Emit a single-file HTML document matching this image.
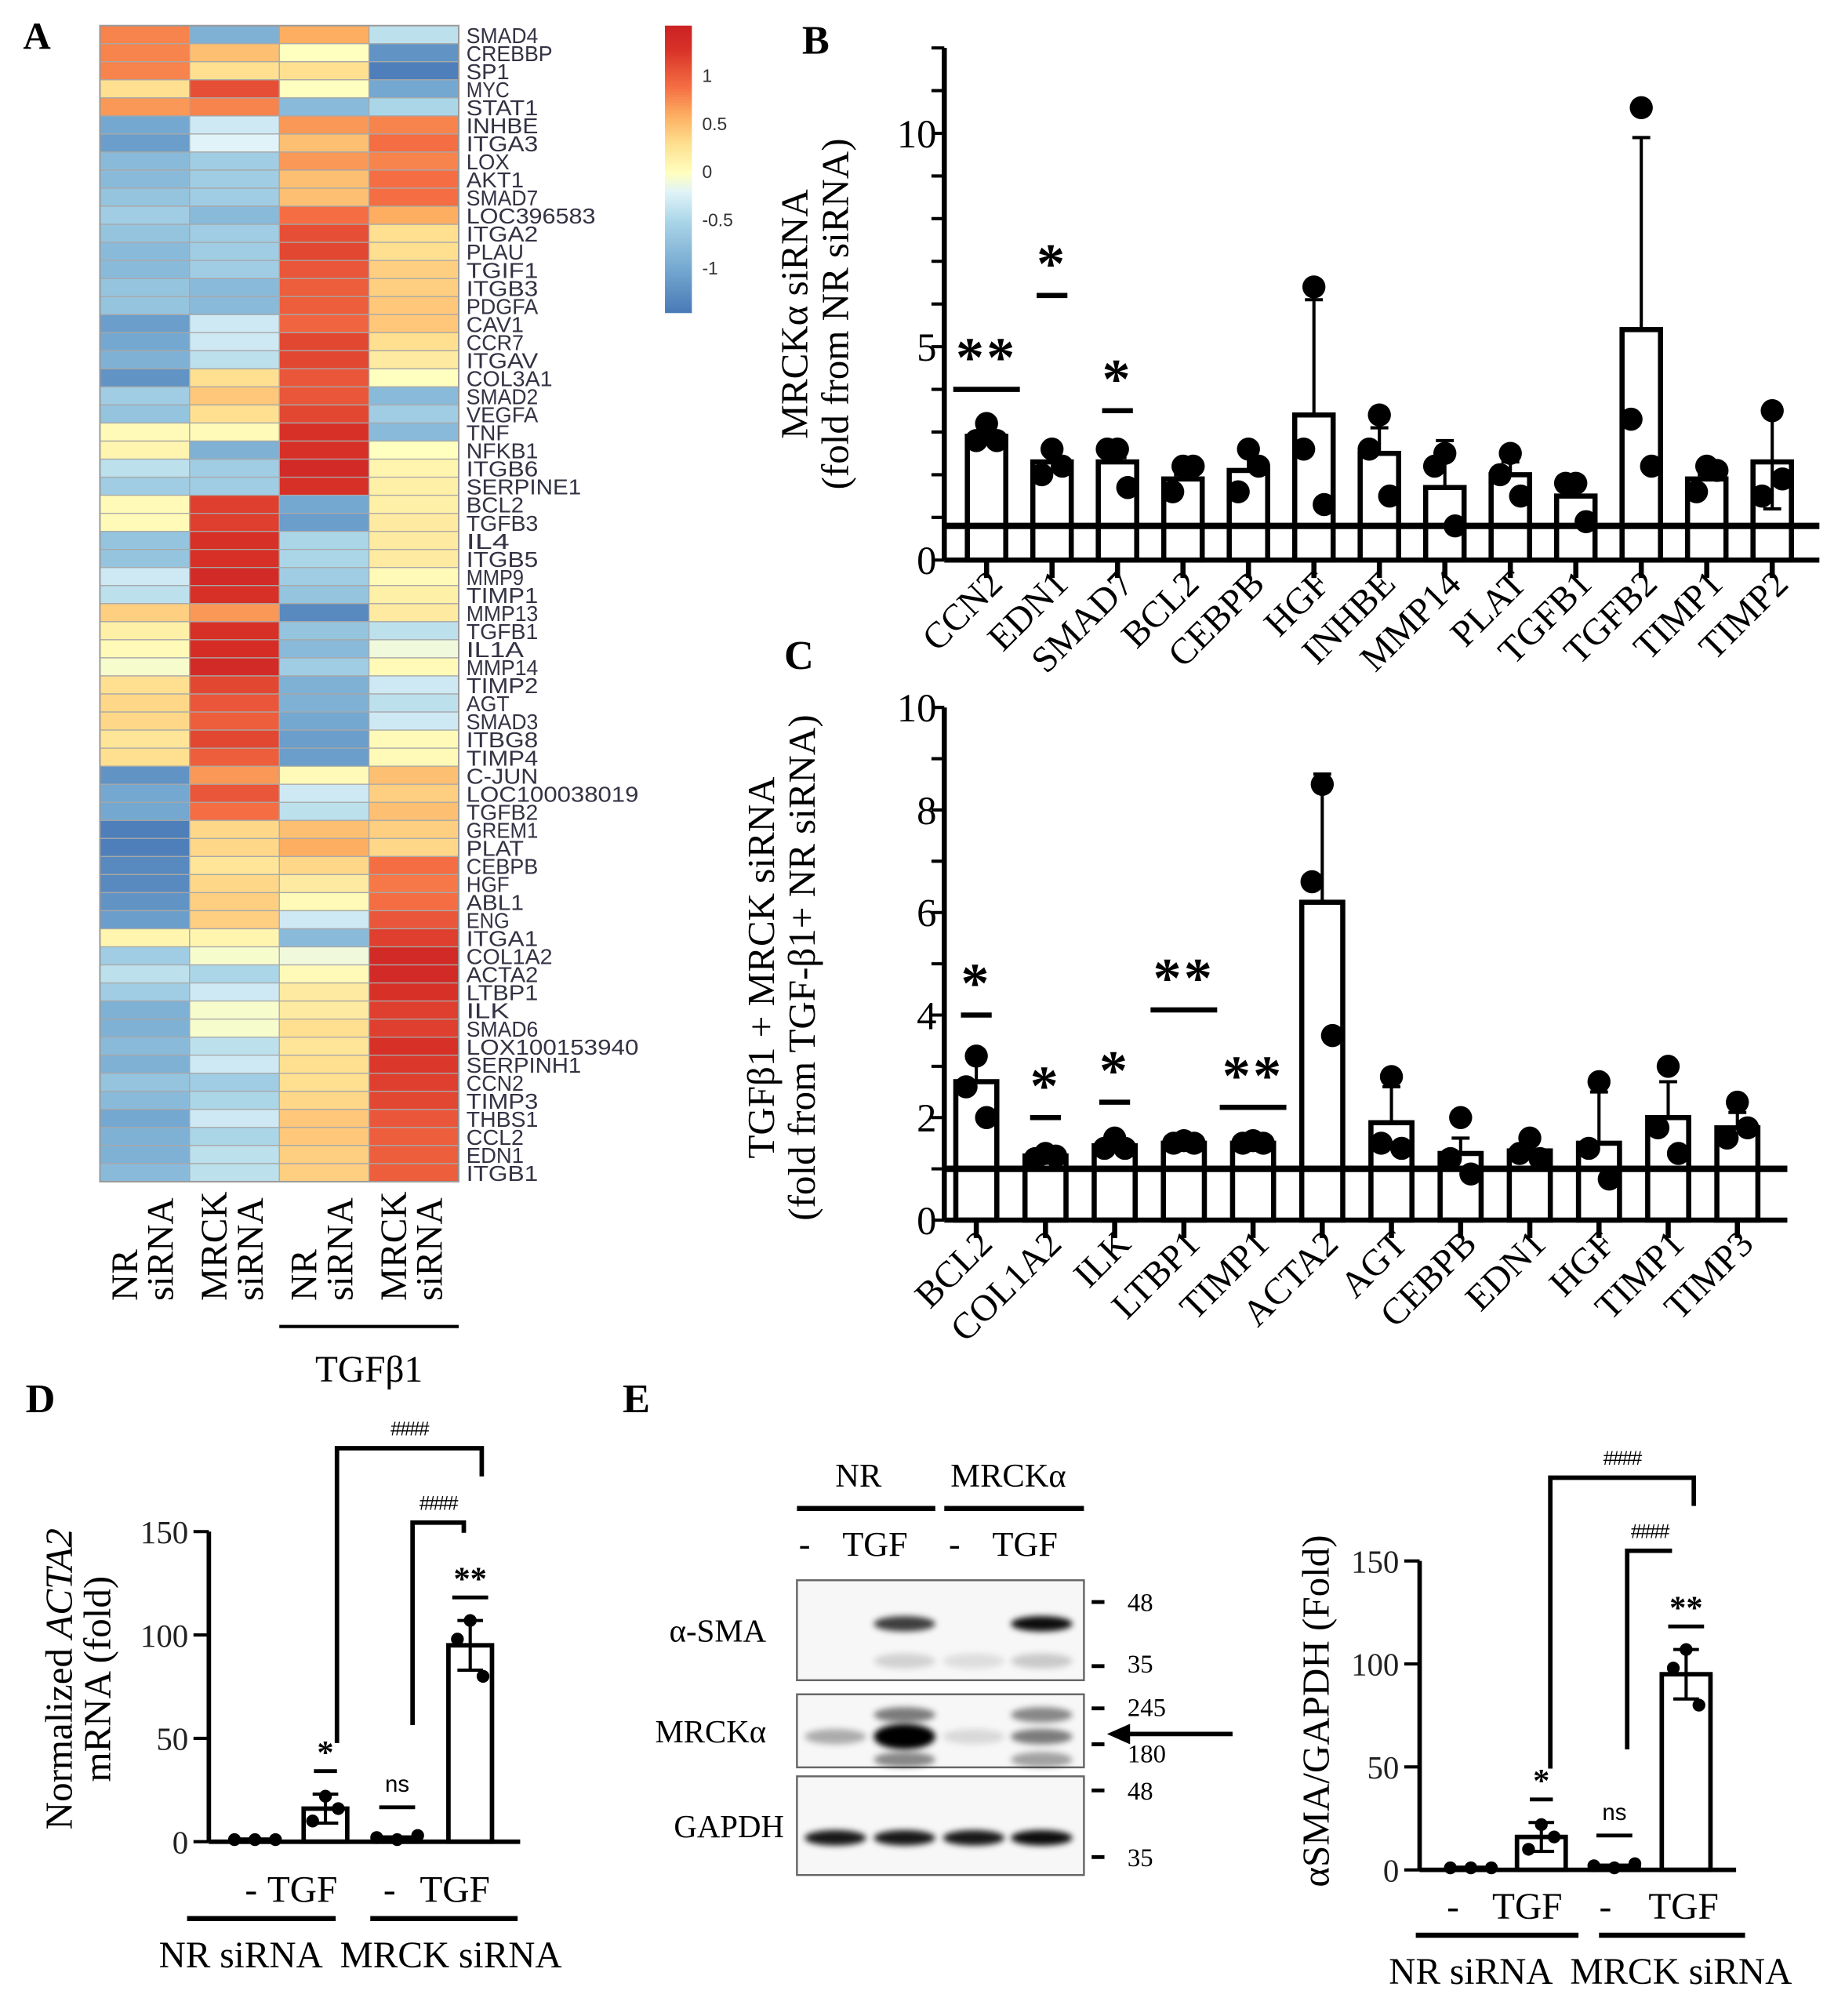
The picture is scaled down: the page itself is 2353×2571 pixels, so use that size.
<!DOCTYPE html>
<html><head><meta charset="utf-8">
<style>
html,body{margin:0;padding:0;background:#fff;}
svg{display:block;}
.serif{font-family:"Liberation Serif",serif;}
.sans{font-family:"Liberation Sans",sans-serif;}
</style></head>
<body>
<svg id="fig" width="2353" height="2571" viewBox="0 0 1440 1573" preserveAspectRatio="none" xmlns="http://www.w3.org/2000/svg">
<g id="heat"></g>
<g id="pb"></g>
<g id="pc"></g>
<g id="pd"></g>
<g id="pe"></g>
<g id="pe2"></g>
</svg>
<script>
// ---------- Panel A data ----------
const genes=["SMAD4","CREBBP","SP1","MYC","STAT1","INHBE","ITGA3","LOX","AKT1","SMAD7","LOC396583","ITGA2","PLAU","TGIF1","ITGB3","PDGFA","CAV1","CCR7","ITGAV","COL3A1","SMAD2","VEGFA","TNF","NFKB1","ITGB6","SERPINE1","BCL2","TGFB3","IL4","ITGB5","MMP9","TIMP1","MMP13","TGFB1","IL1A","MMP14","TIMP2","AGT","SMAD3","ITBG8","TIMP4","C-JUN","LOC100038019","TGFB2","GREM1","PLAT","CEBPB","HGF","ABL1","ENG","ITGA1","COL1A2","ACTA2","LTBP1","ILK","SMAD6","LOX100153940","SERPINH1","CCN2","TIMP3","THBS1","CCL2","EDN1","ITGB1"];
const colNR=[0.8,0.8,0.8,0.3,0.7,-1.0,-1.1,-0.8,-0.8,-0.7,-0.6,-0.7,-0.8,-0.8,-0.7,-0.7,-1.1,-1.0,-0.9,-1.2,-0.6,-0.7,0.05,0.1,-0.4,-0.6,0.05,0.05,-0.7,-0.7,-0.3,-0.4,0.4,0.15,0.05,-0.05,0.3,0.35,0.35,0.25,0.3,-1.2,-1.0,-1.0,-1.4,-1.4,-1.3,-1.3,-1.2,-1.1,0.1,-0.6,-0.4,-0.6,-0.9,-0.9,-0.8,-0.9,-0.7,-0.8,-1.0,-0.9,-0.9,-0.8];
const colMRCK=[-0.9,0.5,0.3,1.1,0.8,-0.3,-0.2,-0.6,-0.6,-0.6,-0.8,-0.6,-0.6,-0.6,-0.8,-0.8,-0.3,-0.3,-0.4,0.3,0.45,0.3,0.05,-0.9,-0.6,-0.6,1.2,1.2,1.3,1.3,1.4,1.3,0.7,1.3,1.35,1.4,1.15,1.05,1.0,1.15,1.0,0.7,1.05,0.9,0.35,0.35,0.25,0.35,0.4,0.4,0.1,-0.05,-0.5,-0.3,-0.05,-0.05,-0.4,-0.3,-0.6,-0.5,-0.3,-0.5,-0.4,-0.4];
const colNRT=[0.6,0,0.3,0,-0.8,0.7,0.5,0.7,0.5,0.5,0.9,1.1,1.15,1.05,1.0,1.0,0.95,1.15,1.15,1.05,1.05,1.15,1.3,1.3,1.4,1.3,-1.0,-1.1,-0.5,-0.5,-0.6,-0.7,-1.3,-0.7,-0.8,-0.6,-0.9,-0.9,-1.0,-1.1,-1.1,0.05,-0.3,-0.4,0.5,0.6,0.35,0.2,0.05,-0.3,-0.8,-0.1,0.05,0.2,0.2,0.3,0.25,0.3,0.3,0.35,0.45,0.45,0.4,0.4];
const colMRCKT=[-0.4,-1.2,-1.4,-1.0,-0.5,0.8,0.9,0.8,0.9,0.9,0.6,0.3,0.3,0.4,0.4,0.45,0.45,0.3,0.2,0,-0.8,-0.6,-0.8,0,0.1,0.15,0.15,0.2,0.2,0.2,0.05,0.15,0.2,-0.4,-0.1,0.05,-0.3,-0.4,-0.3,0.05,0.05,0.5,0.4,0.5,0.4,0.35,0.9,0.85,0.9,1.05,1.2,1.4,1.4,1.3,1.2,1.2,1.3,1.25,1.2,1.15,1.05,1.0,1.0,1.0];
const colorbarTicks=[1,0.5,0,-0.5,-1];
const colorbarTickLabels=["1","0.5","0","-0.5","-1"];

// ---------- Panel B data ----------
const bCats=["CCN2","EDN1","SMAD7","BCL2","CEBPB","HGF","INHBE","MMP14","PLAT","TGFB1","TGFB2","TIMP1","TIMP2"];
const bMeans=[2.9,2.3,2.3,1.9,2.1,3.4,2.5,1.7,2.0,1.5,5.4,1.9,2.3];
const bErrHi=[3.0,2.6,2.4,2.0,2.6,6.1,3.1,2.8,2.3,1.8,9.9,2.0,3.4];
const bErrLo=[2.9,2.3,2.3,1.9,2.1,3.4,2.5,1.7,2.0,1.5,5.4,1.9,1.2];
const bPts1=[3.2,2.6,2.6,2.2,2.6,6.4,3.4,2.5,2.5,1.8,10.6,2.2,3.5];
const bPts2=[2.8,2.0,2.6,1.6,1.6,2.6,2.6,2.2,2.0,1.8,3.3,1.6,1.5];
const bPts3=[2.8,2.2,1.7,2.2,2.2,1.3,1.5,0.8,1.5,0.9,2.2,2.1,1.9];
const bSig=["**","*","*","","","","","","","","","",""];
const bSigY=[4.0,6.2,3.5,0,0,0,0,0,0,0,0,0,0];
const bTicks=[0,5,10];

// ---------- Panel C data ----------
const cCats=["BCL2","COL1A2","ILK","LTBP1","TIMP1","ACTA2","AGT","CEBPB","EDN1","HGF","TIMP1","TIMP3"];
const cMeans=[2.7,1.25,1.45,1.5,1.5,6.2,1.9,1.3,1.35,1.5,2.0,1.8];
const cErrHi=[3.2,1.3,1.6,1.55,1.6,8.7,2.6,1.6,1.6,2.5,2.7,2.1];
const cPts1=[3.2,1.3,1.6,1.55,1.55,8.5,2.8,2.0,1.6,2.7,3.0,2.3];
const cPts2=[2.6,1.2,1.4,1.5,1.5,6.6,1.5,1.2,1.3,1.4,1.8,1.6];
const cPts3=[2.0,1.25,1.4,1.5,1.5,3.6,1.4,0.9,1.2,0.8,1.3,1.8];
const cSig=["*","*","*","**","**","","","","","","",""];
const cSigY=[4.0,2.0,2.3,4.1,2.2,0,0,0,0,0,0,0];
const cTicks=[0,2,4,6,8,10];

// ---------- Panel D / E data ----------
const dMeans=[1,16,2,95];
const dErr=[0,7,0,12];
const dPts1=[1,22,2,107];
const dPts2=[1,10,1,98];
const dPts3=[1,16,3,80];
const dSig=["","*","ns","**"];
const eMeans=[1,16,2,95];
const eErr=[0,7,0,12];
const ePts1=[1,22,2,107];
const ePts2=[1,10,1,98];
const ePts3=[1,16,3,80];
const eSig=["","*","ns","**"];
const ddTicks=[0,50,100,150];
const blotMarkers=["48","35","245","180","48","35"];

const NS="http://www.w3.org/2000/svg";
function el(parent,tag,attrs,text){const e=document.createElementNS(NS,tag);for(const k in attrs)e.setAttribute(k,attrs[k]);if(text!==undefined)e.textContent=text;parent.appendChild(e);return e;}

const stops=[[-1.5,[69,117,180]],[-1.0,[116,168,208]],[-0.5,[171,214,232]],[-0.2,[224,243,248]],[0,[255,255,191]],[0.3,[254,224,144]],[0.6,[253,174,97]],[0.9,[244,109,67]],[1.3,[215,48,39]],[1.6,[200,30,35]]];
function cmap(v){if(v<=stops[0][0])return `rgb(${stops[0][1]})`;for(let i=1;i<stops.length;i++){if(v<=stops[i][0]){const a=stops[i-1],b=stops[i];const t=(v-a[0])/(b[0]-a[0]);const c=a[1].map((x,j)=>Math.round(x+(b[1][j]-x)*t));return `rgb(${c.join(',')})`;}}return `rgb(${stops[stops.length-1][1]})`;}

// ---------- Panel A ----------
(function(){
const g=document.getElementById('heat');
const L=el(g,'text',{x:18,y:38,class:'serif','font-size':30,'font-weight':'bold'},'A');

const x0=78,y0=20,cw=70,rh=(922-20)/genes.length;
const cols=[colNR,colMRCK,colNRT,colMRCKT];
cols.forEach((col,ci)=>{col.forEach((v,ri)=>{
 const r=el(g,'rect',{x:x0+ci*cw,y:y0+ri*rh,width:cw,height:rh,fill:cmap(v),stroke:'#a8a8a8','stroke-width':0.8});
 
 
});});
el(g,'rect',{x:x0,y:y0,width:cw*4,height:rh*genes.length,fill:'none',stroke:'#999','stroke-width':1.2});
genes.forEach((n,ri)=>{
 const t=el(g,'text',{x:364,y:y0+ri*rh+rh/2+6.5,class:'sans','font-size':17,fill:'#333344',textLength:n.length*11.2,lengthAdjust:'spacingAndGlyphs'},n);
 
 
});
const cbx=519,cbw=21,cbTop=20,cbBot=243,zeroY=134,unit=75;
for(let y=cbTop;y<cbBot;y+=2){const v=(zeroY-y)/unit;el(g,'rect',{x:cbx,y:y,width:cbw,height:2.3,fill:cmap(v)});}
colorbarTicks.forEach((v,i)=>{const t=el(g,'text',{x:548,y:zeroY-v*unit+5,class:'sans','font-size':14,fill:'#333'},colorbarTickLabels[i]);
 });
const colLab=[["NR","siRNA"],["MRCK","siRNA"],["NR","siRNA"],["MRCK","siRNA"]];
colLab.forEach((l,ci)=>{const cx=x0+ci*cw+cw/2;
 l.forEach((s,li)=>{const xx=cx-6+li*28;const t=el(g,'text',{x:xx,y:1015,class:'serif','font-size':29,transform:`rotate(-90 ${xx} 1015)`},s);
 });});
el(g,'line',{x1:218,y1:1035,x2:358,y2:1035,stroke:'#000','stroke-width':2.5});
const tg=el(g,'text',{x:288,y:1078,class:'serif','font-size':29,'text-anchor':'middle'},'TGFβ1');

})();

function geneChart(gid,o){
 const g=document.getElementById(gid);
 const Y=v=>o.y0-v*o.unit;
 const X=i=>o.xStart+i*o.step;
 const sw=4;
 o.cats.forEach((c,i)=>{
  const b=el(g,'rect',{x:X(i)-o.bw/2,y:Y(o.means[i]),width:o.bw,height:o.y0-Y(o.means[i]),fill:'#fff',stroke:'#000','stroke-width':sw});
  
  
  const lo=o.errLo?o.errLo[i]:o.means[i];
  el(g,'line',{x1:X(i),y1:Y(o.errHi[i]),x2:X(i),y2:Y(lo),stroke:'#000','stroke-width':2.5});
  el(g,'line',{x1:X(i)-7,y1:Y(o.errHi[i]),x2:X(i)+7,y2:Y(o.errHi[i]),stroke:'#000','stroke-width':2.5});
  if(o.errLo&&lo<o.means[i])el(g,'line',{x1:X(i)-7,y1:Y(lo),x2:X(i)+7,y2:Y(lo),stroke:'#000','stroke-width':2.5});
  [[o.p1,0],[o.p2,-8],[o.p3,8]].forEach(([arr,dx])=>{
   const p=el(g,'circle',{cx:X(i)+dx,cy:Y(arr[i]),r:9,fill:'#000'});
   
   
  });
  if(o.sig[i]){
   const wide=o.sig[i]==='**';const hw=wide?26:12;
   const sx=X(i);
   el(g,'line',{x1:sx-hw,y1:Y(o.sigY[i]),x2:sx+hw,y2:Y(o.sigY[i]),stroke:'#000','stroke-width':4});
   const s=el(g,'text',{x:sx,y:Y(o.sigY[i])+14,class:'serif','font-size':44,'font-weight':'bold','text-anchor':'middle','letter-spacing':2,transform:`translate(0,-24)`},o.sig[i]);
   
   
  }
  el(g,'line',{x1:X(i),y1:o.y0,x2:X(i),y2:o.y0+14,stroke:'#000','stroke-width':sw});
  const t=el(g,'text',{x:X(i)+14,y:o.y0+20,class:'serif','font-size':29,'text-anchor':'end',transform:`rotate(-45 ${X(i)+14} ${o.y0+20})`},c);
  
  
 });
 el(g,'line',{x1:o.ax,y1:Y(o.ref),x2:o.xEnd,y2:Y(o.ref),stroke:'#000','stroke-width':5});
 el(g,'line',{x1:o.ax,y1:Y(o.ymax),x2:o.ax,y2:o.y0,stroke:'#000','stroke-width':sw});
 el(g,'line',{x1:o.ax,y1:o.y0,x2:o.xEnd,y2:o.y0,stroke:'#000','stroke-width':sw});
 for(let v=0;v<=o.ymax;v+=o.minor){el(g,'line',{x1:o.ax-10,y1:Y(v),x2:o.ax,y2:Y(v),stroke:'#000','stroke-width':2.5});}
 o.ticks.forEach(v=>{const t=el(g,'text',{x:o.ax-6,y:Y(v)+11,class:'serif','font-size':31,'text-anchor':'end'},String(v));
  });
 o.ylab.forEach((s,li)=>{const xx=o.ylabX+li*32;const t=el(g,'text',{x:xx,y:o.ylabY,class:'serif','font-size':30,'text-anchor':'middle',transform:`rotate(-90 ${xx} ${o.ylabY})`},s);
  });
 const L=el(g,'text',{x:o.letter[0],y:o.letter[1],class:'serif','font-size':32,'font-weight':'bold'},o.letter[2]);
 
}
geneChart('pb',{cats:bCats,means:bMeans,errHi:bErrHi,errLo:bErrLo,p1:bPts1,p2:bPts2,p3:bPts3,sig:bSig,sigY:bSigY,
 y0:437,unit:33.3,ymax:12,minor:1,ticks:bTicks,ax:737,xStart:770,step:51.1,xEnd:1420,bw:30,ref:0.8,
 ylab:["MRCKα siRNA","(fold from NR siRNA)"],ylabX:630,ylabY:245,letter:[626,42,'B']});
geneChart('pc',{cats:cCats,means:cMeans,errHi:cErrHi,p1:cPts1,p2:cPts2,p3:cPts3,sig:cSig,sigY:cSigY,
 y0:952,unit:40,ymax:10,minor:1,ticks:cTicks,ax:737,xStart:762,step:54,xEnd:1395,bw:32,ref:1,
 ylab:["TGFβ1 + MRCK siRNA","(fold from TGF-β1+ NR siRNA)"],ylabX:604,ylabY:755,letter:[612,522,'C']});

function smallChart(gid,o){
 const g=document.getElementById(gid);
 const Y=v=>o.y0-v*o.unit;
 const sw=3.5;
 o.means.forEach((m,i)=>{
  const x=o.xs[i];
  const b=el(g,'rect',{x:x-o.bw/2,y:Y(m),width:o.bw,height:o.y0-Y(m),fill:'#fff',stroke:'#000','stroke-width':sw});
  
  
  if(o.err[i]>0){
   el(g,'line',{x1:x,y1:Y(m+o.err[i]),x2:x,y2:Y(m-o.err[i]),stroke:'#000','stroke-width':2.5});
   el(g,'line',{x1:x-10,y1:Y(m+o.err[i]),x2:x+10,y2:Y(m+o.err[i]),stroke:'#000','stroke-width':2.5});
   el(g,'line',{x1:x-10,y1:Y(m-o.err[i]),x2:x+10,y2:Y(m-o.err[i]),stroke:'#000','stroke-width':2.5});
  }
  const dxs=i===3||i===1?[0,-10,10]:[-16,0,16];
  [o.p1,o.p2,o.p3].forEach((arr,k)=>{
   const p=el(g,'circle',{cx:x+dxs[k],cy:Y(arr[i]),r:5,fill:'#000'});
   
   
  });
  if(o.sig[i]){
   const top=Math.max(...[o.p1[i],o.p2[i],o.p3[i]],m+o.err[i]);
   const ly=Y(top)-(o.sig[i]==='ns'?22:18);
   const hw=o.sig[i]==='*'?9:14;
   el(g,'line',{x1:x-hw,y1:ly,x2:x+hw,y2:ly,stroke:'#000','stroke-width':3});
   const s=el(g,'text',{x:x,y:ly-(o.sig[i]==='ns'?12:6),'font-family':o.sig[i]==='ns'?'"Liberation Sans",sans-serif':'"Liberation Serif",serif','font-size':o.sig[i]==='ns'?18:26,'font-weight':o.sig[i]==='ns'?'normal':'bold','text-anchor':'middle'},o.sig[i]);
   
   
  }
 });
 el(g,'line',{x1:o.ax,y1:Y(150),x2:o.ax,y2:o.y0,stroke:'#000','stroke-width':sw});
 el(g,'line',{x1:o.ax,y1:o.y0,x2:o.xEnd,y2:o.y0,stroke:'#000','stroke-width':sw});
 ddTicks.forEach(v=>{el(g,'line',{x1:o.ax-12,y1:Y(v),x2:o.ax,y2:Y(v),stroke:'#000','stroke-width':2.5});
  const t=el(g,'text',{x:o.ax-16,y:Y(v)+9,class:'serif','font-size':25,'text-anchor':'end',fill:'#222'},String(v));
  });
 o.brackets.forEach(br=>{
  el(g,'polyline',{points:`${br[0]},${br[1]} ${br[0]},${br[2]} ${br[3]},${br[2]} ${br[3]},${br[4]}`,fill:'none',stroke:'#000','stroke-width':3.5});
  const t=el(g,'text',{x:(br[0]+br[3])/2,y:br[2]-10,class:'sans','font-size':15,'text-anchor':'middle','letter-spacing':-1},'####');
  
 });
 const labs=['-','TGF','-','TGF'];
 labs.forEach((s,i)=>{const t=el(g,'text',{x:o.labX[i],y:o.labY,class:'serif','font-size':29,'text-anchor':'middle'},s);
  });
 o.groupLines.forEach(l=>el(g,'line',{x1:l[0],y1:o.gY,x2:l[1],y2:o.gY,stroke:'#000','stroke-width':4}));
 [['NR siRNA',o.gx[0]],['MRCK siRNA',o.gx[1]]].forEach(([s,x])=>{const t=el(g,'text',{x:x,y:o.gY+38,class:'serif','font-size':29,'text-anchor':'middle'},s);
  });
 const yl=el(g,'text',{x:o.ylabX,y:o.ylabY,class:'serif','font-size':30,'text-anchor':'middle',transform:`rotate(-90 ${o.ylabX} ${o.ylabY})`});
 
 yl.innerHTML=o.ylab;
 if(o.ylab2){const yl2=el(g,'text',{x:o.ylabX+30,y:o.ylabY,class:'serif','font-size':30,'text-anchor':'middle',transform:`rotate(-90 ${o.ylabX+30} ${o.ylabY})`},o.ylab2);
  }
 if(o.letter){const L=el(g,'text',{x:o.letter[0],y:o.letter[1],class:'serif','font-size':32,'font-weight':'bold'},o.letter[2]);
  }
}
smallChart('pd',{means:dMeans,err:dErr,p1:dPts1,p2:dPts2,p3:dPts3,sig:dSig,y0:1437,unit:1.613,ax:163,xEnd:406,xs:[199,254,310,367],bw:34,
 brackets:[[263,1360,1130,376,1152],[322,1346,1188,362,1196]],labX:[196,236,304,355],labY:1484,groupLines:[[146,262],[289,404]],gY:1497,gx:[188,352],
 ylab:'Normalized <tspan font-style="italic">ACTA2</tspan>',ylab2:'mRNA (fold)',ylabX:56,ylabY:1310,letter:[20,1102,'D']});
smallChart('pe2',{means:eMeans,err:eErr,p1:ePts1,p2:ePts2,p3:ePts3,sig:eSig,y0:1459,unit:1.607,ax:1108,xEnd:1355,xs:[1148,1203,1260,1316],bw:38,
 brackets:[[1210,1380,1153,1322,1175],[1270,1365,1210,1305,1210]],labX:[1134,1192,1253,1314],labY:1497,groupLines:[[1105,1232],[1248,1362]],gY:1510,gx:[1148,1312],
 ylab:'αSMA/GAPDH (Fold)',ylabX:1037,ylabY:1335});

(function(){
const g=document.getElementById('pe');
const L=el(g,'text',{x:486,y:1102,class:'serif','font-size':32,'font-weight':'bold'},'E');

const defs=el(g,'defs',{});
const f=el(defs,'filter',{id:'blur',x:'-20%',y:'-100%',width:'140%',height:'300%'});
el(f,'feGaussianBlur',{stdDeviation:2.5});
const lanes=[652,706,760,813];
[['NR',670],['MRCKα',787]].forEach(([s,x])=>{const t=el(g,'text',{x:x,y:1160,class:'serif','font-size':26,'text-anchor':'middle'},s);});
el(g,'line',{x1:622,y1:1177,x2:730,y2:1177,stroke:'#000','stroke-width':4});
el(g,'line',{x1:737,y1:1177,x2:846,y2:1177,stroke:'#000','stroke-width':4});
[['-',628],['TGF',683],['-',745],['TGF',800]].forEach(([s,x])=>{const t=el(g,'text',{x:x,y:1214,class:'serif','font-size':27,'text-anchor':'middle'},s);});
const boxes=[[1233,1311,'α-SMA'],[1322,1379,'MRCKα'],[1386,1463,'GAPDH']];
boxes.forEach(([y1,y2,n])=>{
 const r=el(g,'rect',{x:622,y:y1,width:224,height:y2-y1,fill:'#f7f7f7',stroke:'#666','stroke-width':1.5});
 
 const t=el(g,'text',{x:(n==='GAPDH'?612:598),y:(y1+y2)/2+9,class:'serif','font-size':25,'text-anchor':'end'},n);
 
});
const bands=[[1,1267,0.75],[3,1267,0.95],[1,1296,0.15],[2,1296,0.1],[3,1296,0.18],
 [0,1355,0.3],[1,1355,1],[1,1338,0.5],[1,1373,0.45],[2,1355,0.12],[3,1355,0.5],[3,1338,0.45],[3,1373,0.35],
 [0,1434,0.9],[1,1434,0.9],[2,1434,0.9],[3,1434,0.95]];
bands.forEach(([l,y,o])=>{const e=el(g,'ellipse',{cx:lanes[l],cy:y,rx:24,ry:(y===1355&&l===1)?10:6,fill:'#000','fill-opacity':o,filter:'url(#blur)'});
 });
const mk=[1250,1300,1333,1361,1397,1449];
const mkL=[1257,1305,1339,1375,1404,1456];
mk.forEach((y,i)=>{el(g,'line',{x1:852,y1:y,x2:862,y2:y,stroke:'#000','stroke-width':3});
 const t=el(g,'text',{x:880,y:mkL[i],class:'serif','font-size':20},blotMarkers[i]);});
el(g,'line',{x1:962,y1:1353,x2:878,y2:1353,stroke:'#000','stroke-width':3.5});
const a=el(g,'polygon',{points:'864,1353 882,1345 882,1361',fill:'#000'});

})();
</script>
</body></html>
